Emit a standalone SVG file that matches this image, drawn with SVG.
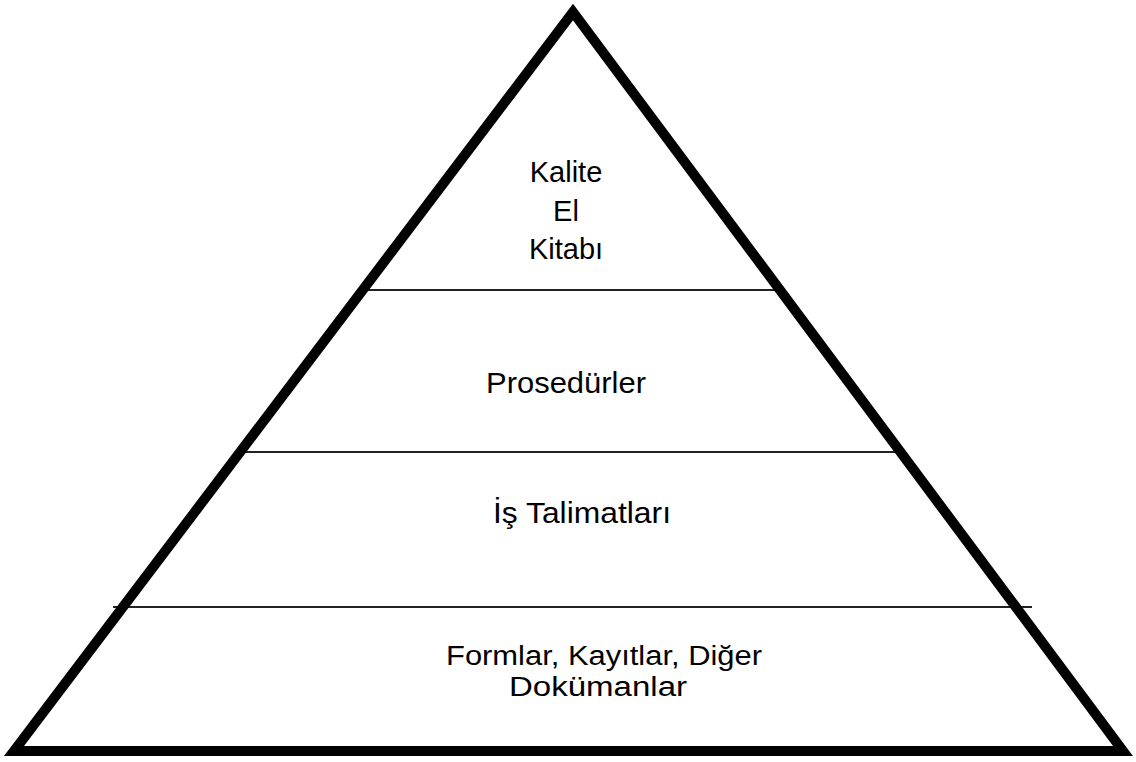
<svg xmlns="http://www.w3.org/2000/svg" width="1136" height="762" viewBox="0 0 1136 762">
  <style>
    .frame { fill: none; stroke: #000; stroke-width: 10; stroke-linejoin: miter; stroke-miterlimit: 10; }
    .tier { stroke: #222; stroke-width: 2; }
    .label { font-family: "Liberation Sans", Arial, sans-serif; font-size: 29px; fill: #000; text-anchor: middle; }
    .small { font-size: 27px; }
  </style>
  <rect width="1136" height="762" fill="#fff"/>

  <!-- tier dividers -->
  <g id="connectors">
    <line class="tier" x1="368" y1="290" x2="780" y2="290"/>
    <line class="tier" x1="240" y1="452" x2="905" y2="452"/>
    <line class="tier" x1="113" y1="607" x2="1032" y2="607"/>
  </g>

  <!-- pyramid outline -->
  <g id="pyramid">
    <polygon class="frame" points="573,12 14,751 1123,751"/>
  </g>

  <g id="tier-quality-manual">
    <text class="label" x="566" y="182">Kalite</text>
    <text class="label" x="566" y="221">El</text>
    <text class="label" x="566" y="259">Kitabı</text>
  </g>
  <g id="tier-procedures">
    <text class="label" x="566" y="393" textLength="160" lengthAdjust="spacingAndGlyphs">Prosedürler</text>
  </g>
  <g id="tier-work-instructions">
    <text class="label" x="582" y="523" textLength="178" lengthAdjust="spacingAndGlyphs">İş Talimatları</text>
  </g>
  <g id="tier-forms">
    <text class="label small" x="604" y="665" textLength="316" lengthAdjust="spacingAndGlyphs">Formlar, Kayıtlar, Diğer</text>
    <text class="label small" x="598" y="696" textLength="178" lengthAdjust="spacingAndGlyphs">Dokümanlar</text>
  </g>
</svg>
